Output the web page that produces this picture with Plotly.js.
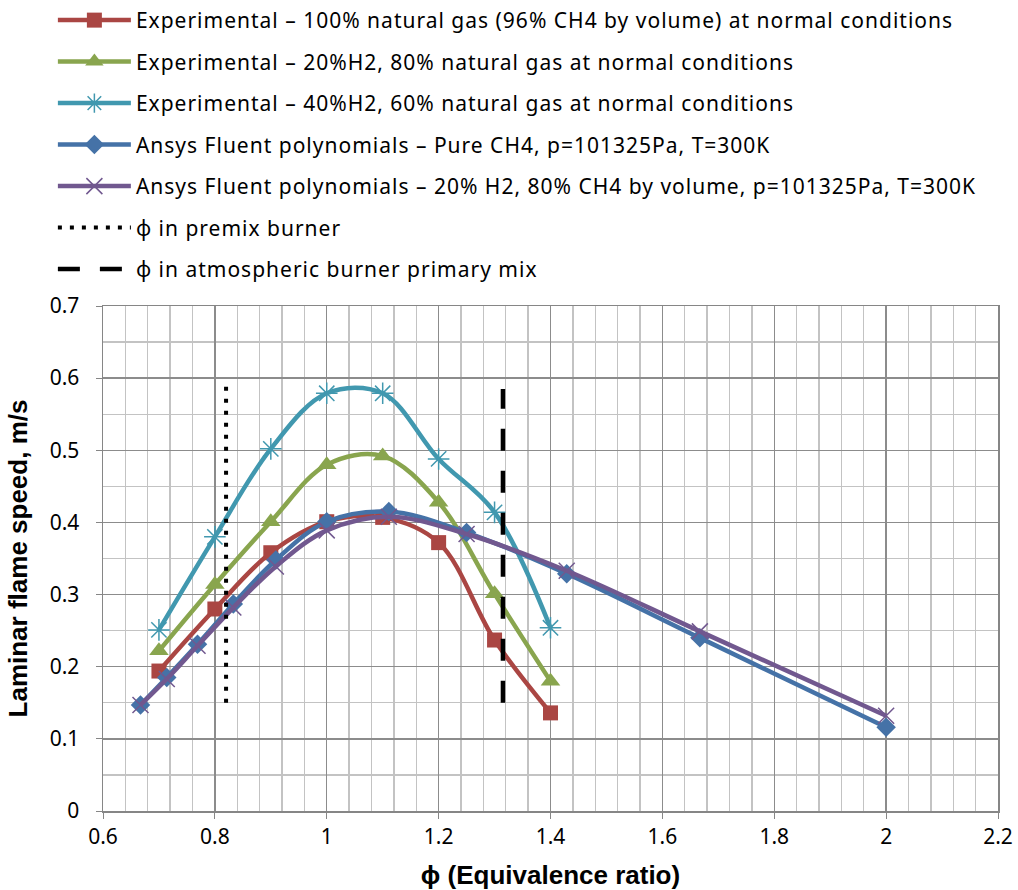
<!DOCTYPE html>
<html>
<head>
<meta charset="utf-8">
<script src="https://cdn.plot.ly/plotly-3.0.1.min.js"></script>
<style>
html,body{margin:0;padding:0;background:#fff;}
#chart{width:1018px;height:890px;}
.legendtext{letter-spacing:1px;}
</style>
</head>
<body>
<div id="chart"></div>
<script>
// Experimental data (equivalence ratio vs laminar flame speed, m/s)
const phiExp = [0.7, 0.8, 0.9, 1.0, 1.1, 1.2, 1.3, 1.4];
const ngExp = [0.194, 0.280, 0.358, 0.401, 0.407, 0.372, 0.237, 0.136];
const h20Exp = [0.222, 0.314, 0.401, 0.480, 0.492, 0.428, 0.301, 0.180];
const h40Exp = [0.251, 0.380, 0.502, 0.579, 0.579, 0.488, 0.414, 0.254];

// Ansys Fluent polynomials
const phiFluent = [0.667, 0.714, 0.769, 0.833, 0.909, 1.0, 1.111, 1.25, 1.429, 1.667, 2.0];
const ch4Fluent = [0.147, 0.185, 0.231, 0.287, 0.348, 0.401, 0.415, 0.386, 0.329, 0.240, 0.116];
const h20Fluent = [0.147, 0.183, 0.229, 0.282, 0.339, 0.389, 0.408, 0.384, 0.333, 0.249, 0.132];

// Reference lines
const phiPremix = [0.82, 0.82];
const premixSpan = [0.15, 0.595];
const phiAtmos = [1.315, 1.315];
const atmosSpan = [0.15, 0.585];

const names = [
  'Experimental – 100% natural gas (96% CH4 by volume) at normal conditions',
  'Experimental – 20%H2, 80% natural gas at normal conditions',
  'Experimental – 40%H2, 60% natural gas at normal conditions',
  'Ansys Fluent polynomials – Pure CH4, p=101325Pa, T=300K',
  'Ansys Fluent polynomials – 20% H2, 80% CH4 by volume, p=101325Pa, T=300K',
  'ϕ in premix burner',
  'ϕ in atmospheric burner primary mix'
];

const LW = 4.5;
const traces = [
  {x: phiExp, y: ngExp, name: names[0], legendgroup: 'a', mode: 'lines+markers',
   line: {color: '#AA4643', width: LW, shape: 'spline', smoothing: 1},
   marker: {symbol: 'square', size: 15, color: '#AA4643'}},
  {x: phiExp, y: h20Exp, name: names[1], legendgroup: 'b', mode: 'lines+markers',
   line: {color: '#89A54E', width: LW, shape: 'spline', smoothing: 1},
   marker: {symbol: 'triangle-up', size: 17, color: '#89A54E'}},
  {x: phiExp, y: h40Exp, name: names[2], legendgroup: 'c', mode: 'lines+markers',
   line: {color: '#4198AF', width: LW, shape: 'spline', smoothing: 1},
   marker: {symbol: 'asterisk-open', size: 18, color: '#4198AF', line: {color: '#4198AF', width: 1.5}}},
  {x: phiFluent, y: ch4Fluent, name: names[3], legendgroup: 'd', mode: 'lines+markers',
   line: {color: '#4572A7', width: LW, shape: 'spline', smoothing: 1},
   marker: {symbol: 'diamond', size: 15, color: '#4572A7'}},
  {x: phiFluent, y: h20Fluent, name: names[4], legendgroup: 'e', mode: 'lines+markers',
   line: {color: '#71588F', width: LW, shape: 'spline', smoothing: 1},
   marker: {symbol: 'x-thin-open', size: 16, color: '#71588F', line: {color: '#71588F', width: 1.5}}},
  {x: phiPremix, y: premixSpan, name: names[5], legendgroup: 'f', mode: 'lines',
   line: {color: '#000000', width: 4, dash: '4px,8px'}},
  {x: phiAtmos, y: atmosSpan, name: names[6], legendgroup: 'g', mode: 'lines',
   line: {color: '#000000', width: 4.5, dash: '22px,20px'}}
];

const tickFont = {family: '"Noto Sans", "Open Sans", sans-serif', size: 21, color: '#000'};
const titleFont = {family: '"Liberation Sans", Arial, sans-serif', size: 26, color: '#000', weight: 'bold'};
const layout = {
  width: 1018, height: 890,
  margin: {l: 103, r: 20, t: 306, b: 79, autoexpand: false},
  paper_bgcolor: '#fff', plot_bgcolor: '#fff',
  showlegend: true,
  legend: {
    x: -0.056, xanchor: 'left', y: 1.606, yanchor: 'top',
    traceorder: 'grouped', tracegroupgap: 11.2,
    itemwidth: 73,
    font: {family: '"Noto Sans", "Open Sans", sans-serif', size: 21, color: '#000'},
    bgcolor: 'rgba(0,0,0,0)'
  },
  xaxis: {
    range: [0.6, 2.2], tick0: 0.6, dtick: 0.2,
    showgrid: true, gridcolor: '#8c8c8c', gridwidth: 1.3,
    minor: {dtick: 0.04, showgrid: true, gridcolor: '#c3c3c3', gridwidth: 1.3},
    showline: true, linecolor: '#868686', linewidth: 1.5, mirror: true,
    ticks: 'outside', ticklen: 6, tickcolor: '#868686',
    zeroline: false, tickfont: tickFont,
    title: {text: 'ϕ (Equivalence ratio)', standoff: 19, font: titleFont}
  },
  yaxis: {
    range: [0, 0.7], tick0: 0, dtick: 0.1,
    showgrid: true, gridcolor: '#8c8c8c', gridwidth: 1.3,
    minor: {dtick: 0.05, showgrid: true, gridcolor: '#c3c3c3', gridwidth: 1.3},
    showline: true, linecolor: '#868686', linewidth: 1.5, mirror: true,
    ticks: 'outside', ticklen: 6, tickcolor: '#868686', ticklabelstandoff: 12,
    zeroline: false, tickfont: tickFont,
    title: {text: 'Laminar flame speed, m/s', standoff: 14, font: titleFont}
  }
};

Plotly.newPlot('chart', traces, layout, {displayModeBar: false, staticPlot: true});
</script>
</body>
</html>
